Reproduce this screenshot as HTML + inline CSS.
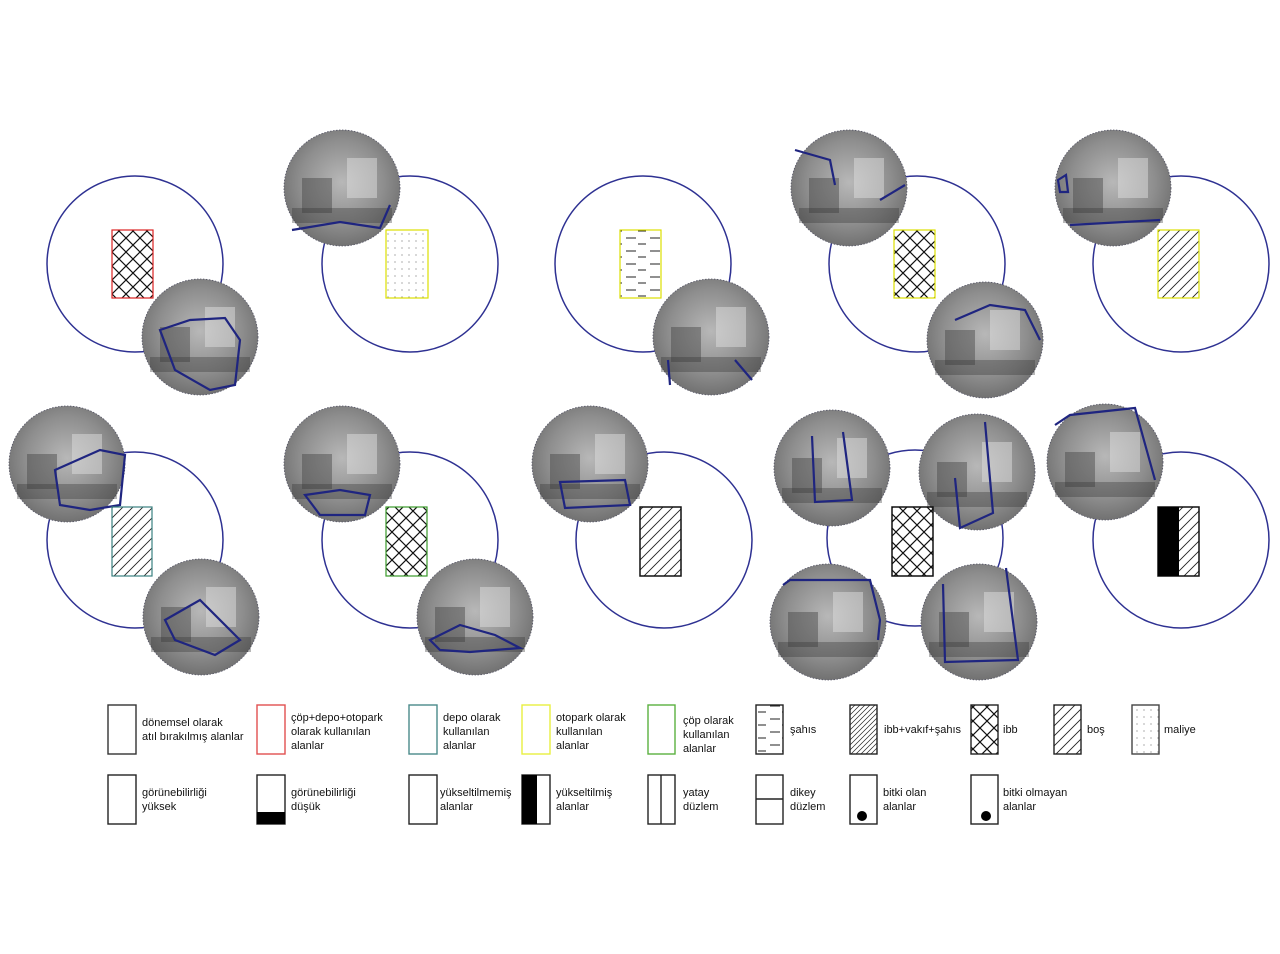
<!DOCTYPE html>
<html><head><meta charset="utf-8"><style>
html,body{margin:0;padding:0;background:#fff;width:1280px;height:954px;overflow:hidden}
svg{display:block}
text{font-family:"Liberation Sans",sans-serif;font-size:11px;fill:#111}
</style></head><body>
<svg width="1280" height="954" viewBox="0 0 1280 954" xmlns="http://www.w3.org/2000/svg">
<defs>
<pattern id="cross" width="14" height="14" patternUnits="userSpaceOnUse">
<path d="M0,0L14,14M14,0L0,14" stroke="#111" stroke-width="1.2"/></pattern>
<pattern id="diag" width="10" height="10" patternUnits="userSpaceOnUse">
<path d="M-2,12L12,-2M-2,2L2,-2M8,12L12,8" stroke="#222" stroke-width="0.9"/></pattern>
<pattern id="diag2" width="5" height="5" patternUnits="userSpaceOnUse">
<path d="M-1,6L6,-1M-1,1L1,-1M4,6L6,4" stroke="#222" stroke-width="0.7"/></pattern>
<pattern id="dots" width="7" height="7" patternUnits="userSpaceOnUse">
<circle cx="3" cy="3" r="0.6" fill="#777"/></pattern>
<pattern id="dash" width="24" height="13" patternUnits="userSpaceOnUse">
<path d="M2,4H12M14,10H22" stroke="#222" stroke-width="1"/></pattern>
<radialGradient id="ph" cx="50%" cy="45%" r="60%">
<stop offset="0" stop-color="#b8b8b8"/><stop offset="0.6" stop-color="#8e8e8e"/><stop offset="1" stop-color="#6a6a6a"/></radialGradient>
<g id="photo">
<circle r="58" fill="url(#ph)" stroke="#556" stroke-width="0.8" stroke-dasharray="1.5 1.5"/>
<rect x="-40" y="-10" width="30" height="35" fill="#444" opacity="0.45"/>
<rect x="5" y="-30" width="30" height="40" fill="#ddd" opacity="0.5"/>
<rect x="-50" y="20" width="100" height="15" fill="#333" opacity="0.35"/>
</g>
</defs>

<g fill="none" stroke="#2e3192" stroke-width="1.5">
<circle cx="135" cy="264" r="88"/>
<circle cx="410" cy="264" r="88"/>
<circle cx="643" cy="264" r="88"/>
<circle cx="917" cy="264" r="88"/>
<circle cx="1181" cy="264" r="88"/>
<circle cx="135" cy="540" r="88"/>
<circle cx="410" cy="540" r="88"/>
<circle cx="664" cy="540" r="88"/>
<circle cx="915" cy="538" r="88"/>
<circle cx="1181" cy="540" r="88"/>
</g>

<use href="#photo" x="200" y="337"/>
<use href="#photo" x="342" y="188"/>
<use href="#photo" x="711" y="337"/>
<use href="#photo" x="849" y="188"/>
<use href="#photo" x="985" y="340"/>
<use href="#photo" x="1113" y="188"/>
<use href="#photo" x="67" y="464"/>
<use href="#photo" x="201" y="617"/>
<use href="#photo" x="342" y="464"/>
<use href="#photo" x="475" y="617"/>
<use href="#photo" x="590" y="464"/>
<use href="#photo" x="832" y="468"/>
<use href="#photo" x="977" y="472"/>
<use href="#photo" x="828" y="622"/>
<use href="#photo" x="979" y="622"/>
<use href="#photo" x="1105" y="462"/>

<g fill="none" stroke="#1f2580" stroke-width="2.2">
<path d="M160,330L190,320L225,318L240,340L235,385L210,390L175,370Z"/>
<path d="M292,230L340,222L380,228L390,205"/>
<path d="M668,360L670,385M735,360L752,380"/>
<path d="M795,150L830,160L835,185"/>
<path d="M880,200L905,185"/>
<path d="M955,320L990,305L1025,310L1040,340"/>
<path d="M1058,180L1066,175L1068,192L1060,192Z"/>
<path d="M1070,225L1160,220"/>
<path d="M55,470L100,450L125,455L120,505L90,510L60,505Z"/>
<path d="M165,620L200,600L240,640L215,655L175,640Z"/>
<path d="M305,495L340,490L370,495L365,515L320,515Z"/>
<path d="M430,640L460,625L495,635L520,648L470,652L440,650Z"/>
<path d="M560,482L625,480L630,505L565,508Z"/>
<path d="M812,436L815,502L852,500L843,432"/>
<path d="M955,478L960,528L993,513L985,422"/>
<path d="M783,585L790,580L870,580L880,620L878,640"/>
<path d="M943,584L945,662L1018,660L1006,568"/>
<path d="M1055,425L1070,415L1135,408L1155,480"/>
</g>

<rect x="112" y="230" width="41" height="68" fill="url(#cross)" stroke="#d22" stroke-width="1.2"/>
<rect x="386" y="230" width="42" height="68" fill="url(#dots)" stroke="#dde000" stroke-width="1.2"/>
<rect x="620" y="230" width="41" height="68" fill="url(#dash)" stroke="#dde000" stroke-width="1.2"/>
<rect x="894" y="230" width="41" height="68" fill="url(#cross)" stroke="#dde000" stroke-width="1.2"/>
<rect x="1158" y="230" width="41" height="68" fill="url(#diag)" stroke="#dde000" stroke-width="1.2"/>
<rect x="112" y="507" width="40" height="69" fill="url(#diag)" stroke="#3a8080" stroke-width="1.2"/>
<rect x="386" y="507" width="41" height="69" fill="url(#cross)" stroke="#3a9a2a" stroke-width="1.2"/>
<rect x="640" y="507" width="41" height="69" fill="url(#diag)" stroke="#111" stroke-width="1.5"/>
<rect x="892" y="507" width="41" height="69" fill="url(#cross)" stroke="#111" stroke-width="1.5"/>
<rect x="1158" y="507" width="41" height="69" fill="url(#diag)" stroke="#111" stroke-width="1.5"/>
<rect x="1158" y="507" width="21" height="69" fill="#000"/>

<g stroke-width="1.4" fill="#fff">
<rect x="108" y="705" width="28" height="49" stroke="#333"/>
<rect x="257" y="705" width="28" height="49" stroke="#e05050"/>
<rect x="409" y="705" width="28" height="49" stroke="#4a8a8a"/>
<rect x="522" y="705" width="28" height="49" stroke="#e8f040"/>
<rect x="648" y="705" width="27" height="49" stroke="#5ab040"/>
<rect x="756" y="705" width="27" height="49" stroke="#222" fill="url(#dash)"/>
<rect x="850" y="705" width="27" height="49" stroke="#222" fill="url(#diag2)"/>
<rect x="971" y="705" width="27" height="49" stroke="#222" fill="url(#cross)"/>
<rect x="1054" y="705" width="27" height="49" stroke="#222" fill="url(#diag)"/>
<rect x="1132" y="705" width="27" height="49" stroke="#444" fill="url(#dots)"/>
</g>
<g>
<text x="142" y="726">dönemsel olarak</text><text x="142" y="740">atıl bırakılmış alanlar</text>
<text x="291" y="721">çöp+depo+otopark</text><text x="291" y="735">olarak kullanılan</text><text x="291" y="749">alanlar</text>
<text x="443" y="721">depo olarak</text><text x="443" y="735">kullanılan</text><text x="443" y="749">alanlar</text>
<text x="556" y="721">otopark olarak</text><text x="556" y="735">kullanılan</text><text x="556" y="749">alanlar</text>
<text x="683" y="724">çöp olarak</text><text x="683" y="738">kullanılan</text><text x="683" y="752">alanlar</text>
<text x="790" y="733">şahıs</text>
<text x="884" y="733">ibb+vakıf+şahıs</text>
<text x="1003" y="733">ibb</text>
<text x="1087" y="733">boş</text>
<text x="1164" y="733">maliye</text>
</g>
<g stroke="#222" stroke-width="1.4" fill="#fff">
<rect x="108" y="775" width="28" height="49"/>
<rect x="257" y="775" width="28" height="49"/>
<rect x="409" y="775" width="28" height="49"/>
<rect x="522" y="775" width="28" height="49"/>
<rect x="648" y="775" width="27" height="49"/>
<rect x="756" y="775" width="27" height="49"/>
<rect x="850" y="775" width="27" height="49"/>
<rect x="971" y="775" width="27" height="49"/>
</g>
<rect x="257" y="812" width="28" height="12" fill="#000"/>
<rect x="522" y="775" width="15" height="49" fill="#000"/>
<line x1="661" y1="775" x2="661" y2="824" stroke="#222" stroke-width="1.4"/>
<line x1="756" y1="799" x2="783" y2="799" stroke="#222" stroke-width="1.4"/>
<circle cx="862" cy="816" r="5" fill="#000"/>
<circle cx="986" cy="816" r="5" fill="#000"/>
<g>
<text x="142" y="796">görünebilirliği</text><text x="142" y="810">yüksek</text>
<text x="291" y="796">görünebilirliği</text><text x="291" y="810">düşük</text>
<text x="440" y="796">yükseltilmemiş</text><text x="440" y="810">alanlar</text>
<text x="556" y="796">yükseltilmiş</text><text x="556" y="810">alanlar</text>
<text x="683" y="796">yatay</text><text x="683" y="810">düzlem</text>
<text x="790" y="796">dikey</text><text x="790" y="810">düzlem</text>
<text x="883" y="796">bitki olan</text><text x="883" y="810">alanlar</text>
<text x="1003" y="796">bitki olmayan</text><text x="1003" y="810">alanlar</text>
</g>
</svg>
</body></html>
